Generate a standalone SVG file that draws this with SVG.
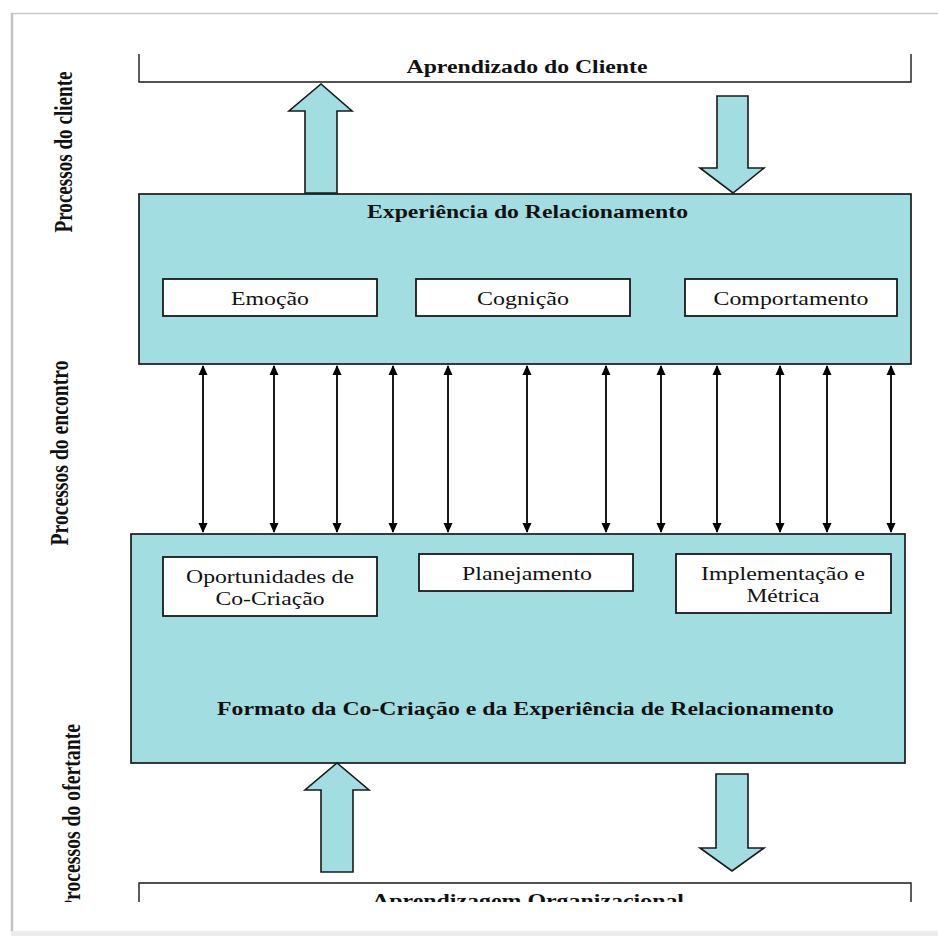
<svg xmlns="http://www.w3.org/2000/svg" width="938" height="936" viewBox="0 0 938 936">
<defs>
<style>
.box{fill:#a2dde1;stroke:#1a1a1a;stroke-width:1.7}
.wbox{fill:#ffffff;stroke:#1a1a1a;stroke-width:1.8}
.blk{fill:#a2dde1;stroke:#1a1a1a;stroke-width:1.6;stroke-linejoin:miter}
.edge{fill:none;stroke:#1a1a1a;stroke-width:1.4}
.title{font-family:"Liberation Serif","Times New Roman",serif;font-weight:bold;font-size:18.5px;fill:#111}
.lbl{font-family:"Liberation Serif","Times New Roman",serif;font-size:18.5px;fill:#111}
.side{font-family:"Liberation Serif","Times New Roman",serif;font-weight:bold;font-size:19px;fill:#111}
.con{stroke:#000;stroke-width:1.8;fill:none;marker-start:url(#ah);marker-end:url(#ah)}
</style>
<marker id="ah" viewBox="0 0 10 10" refX="9" refY="5" markerWidth="10" markerHeight="10" orient="auto-start-reverse" markerUnits="userSpaceOnUse">
<path d="M0,0.5 L10,5 L0,9.5 z" fill="#000"/>
</marker>
<clipPath id="clipBottom"><rect x="0" y="0" width="938" height="902"/></clipPath>
</defs>
<rect x="0" y="0" width="938" height="936" fill="#ffffff"/>
<g id="frame">
<line x1="11" y1="13.5" x2="938" y2="13.5" stroke="#c9c9c9" stroke-width="1.5"/>
<line x1="12" y1="13" x2="12" y2="932" stroke="#c4c4c4" stroke-width="2.5"/>
<rect x="11" y="931" width="927" height="5" fill="#ececec"/>
</g>
<g clip-path="url(#clipBottom)">
<g id="side-labels">
<text class="side" transform="translate(72,152) scale(1.3,1) rotate(-90)" text-anchor="middle" textLength="161" lengthAdjust="spacingAndGlyphs">Processos do cliente</text>
<text class="side" transform="translate(68,453) scale(1.3,1) rotate(-90)" text-anchor="middle" textLength="185" lengthAdjust="spacingAndGlyphs">Processos do encontro</text>
<text class="side" transform="translate(80,818) scale(1.3,1) rotate(-90)" text-anchor="middle" textLength="188" lengthAdjust="spacingAndGlyphs">Processos do ofertante</text>
</g>
<g id="aprendizado-cliente">
<path class="edge" d="M139,54 V82 H911 V54"/>
<text class="title" x="527" y="73" text-anchor="middle" textLength="241" lengthAdjust="spacingAndGlyphs">Aprendizado do Cliente</text>
</g>
<g id="aprendizagem-organizacional">
<path class="edge" d="M139,904 V883 H911 V904"/>
<text class="title" x="528" y="907" text-anchor="middle" textLength="312" lengthAdjust="spacingAndGlyphs">Aprendizagem Organizacional</text>
</g>
</g>
<g id="experiencia">
<rect class="box" x="139" y="194" width="772" height="170"/>
<text class="title" x="527.5" y="218" text-anchor="middle" textLength="321" lengthAdjust="spacingAndGlyphs">Experiência do Relacionamento</text>
</g>
<g id="emocao">
<rect class="wbox" x="163" y="279" width="214" height="37"/>
<text class="lbl" x="270" y="305" text-anchor="middle" textLength="78" lengthAdjust="spacingAndGlyphs">Emoção</text>
</g>
<g id="cognicao">
<rect class="wbox" x="416" y="279" width="214" height="37"/>
<text class="lbl" x="523" y="305" text-anchor="middle" textLength="92" lengthAdjust="spacingAndGlyphs">Cognição</text>
</g>
<g id="comportamento">
<rect class="wbox" x="685" y="279" width="212" height="37"/>
<text class="lbl" x="791" y="305" text-anchor="middle" textLength="155" lengthAdjust="spacingAndGlyphs">Comportamento</text>
</g>
<g id="formato">
<rect class="box" x="131" y="534" width="774" height="229"/>
<text class="title" x="525.5" y="715" text-anchor="middle" textLength="617" lengthAdjust="spacingAndGlyphs">Formato da Co-Criação e da Experiência de Relacionamento</text>
</g>
<g id="oportunidades">
<rect class="wbox" x="163" y="557" width="214" height="59"/>
<text class="lbl" x="270" y="583" text-anchor="middle" textLength="168" lengthAdjust="spacingAndGlyphs">Oportunidades de</text>
<text class="lbl" x="270" y="605" text-anchor="middle" textLength="109" lengthAdjust="spacingAndGlyphs">Co-Criação</text>
</g>
<g id="planejamento">
<rect class="wbox" x="419" y="554" width="214" height="37"/>
<text class="lbl" x="527" y="580" text-anchor="middle" textLength="130" lengthAdjust="spacingAndGlyphs">Planejamento</text>
</g>
<g id="implementacao">
<rect class="wbox" x="676" y="554" width="215" height="59"/>
<text class="lbl" x="783" y="580" text-anchor="middle" textLength="164" lengthAdjust="spacingAndGlyphs">Implementação e</text>
<text class="lbl" x="783" y="602" text-anchor="middle" textLength="73" lengthAdjust="spacingAndGlyphs">Métrica</text>
</g>
<g id="connectors">
<path class="blk" d="M305,193 V111 H289 L321,84 L352,111 H337 V193 Z"/>
<path class="blk" d="M717,96 H748 V168 H764 L733,193 L700,168 H717 Z"/>
<path class="blk" d="M321,872 V790 H305 L337,763 L369,790 H353 V872 Z"/>
<path class="blk" d="M716,774 H748 V848 H764 L732,871 L700,848 H716 Z"/>
<line class="con" x1="203" y1="366" x2="203" y2="532"/>
<line class="con" x1="274" y1="366" x2="274" y2="532"/>
<line class="con" x1="337" y1="366" x2="337" y2="532"/>
<line class="con" x1="393" y1="366" x2="393" y2="532"/>
<line class="con" x1="448" y1="366" x2="448" y2="532"/>
<line class="con" x1="527" y1="366" x2="527" y2="532"/>
<line class="con" x1="606" y1="366" x2="606" y2="532"/>
<line class="con" x1="661" y1="366" x2="661" y2="532"/>
<line class="con" x1="717" y1="366" x2="717" y2="532"/>
<line class="con" x1="780" y1="366" x2="780" y2="532"/>
<line class="con" x1="827" y1="366" x2="827" y2="532"/>
<line class="con" x1="891" y1="366" x2="891" y2="532"/>
</g>
</svg>
